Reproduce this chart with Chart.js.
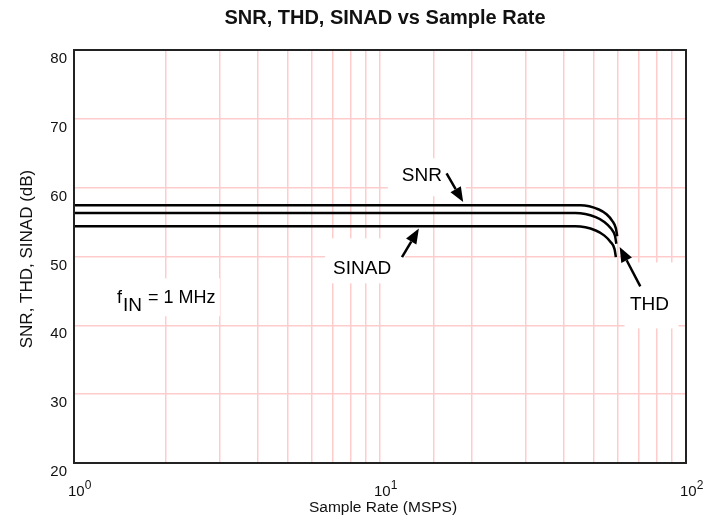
<!DOCTYPE html>
<html>
<head>
<meta charset="utf-8">
<script src="https://cdn.jsdelivr.net/npm/chart.js@4.4.1/dist/chart.umd.min.js"></script>
<style>
  html, body { margin: 0; padding: 0; background: #fff; }
  #wrap { width: 724px; height: 523px; position: relative; }
</style>
</head>
<body>
<div id="wrap"><canvas id="snrChart"></canvas></div>
<script>
// values (x in MSPS, y in dB)
const rateSNR = [1, 10, 45.1, 51.9, 55.0, 57.4, 59.0, 59.6];
const snrDb   = [57.44, 57.44, 57.44, 56.83, 56.13, 55.18, 54.09, 52.93];
const rateTHD = [1, 10, 43.5, 50.7, 54.1, 56.8, 58.6, 59.2];
const thdDb   = [56.32, 56.32, 56.32, 55.72, 55.01, 54.09, 53.01, 51.86];
const rateSINAD = [1, 10, 43.5, 50.7, 54.0, 56.6, 58.4, 59.0];
const sinadDb   = [54.38, 54.38, 54.38, 53.78, 53.07, 52.15, 51.08, 49.91];

const yTicks = [20, 30, 40, 50, 60, 70, 80];
const xDecades = [1, 10, 100];

const FONT = "'Liberation Sans', Arial, sans-serif";
const GRID = 'rgb(255, 204, 204)';

// curve labels: text centre, arrow tail/tip (data units), white box round the text (px)
const notes = [
  { text: 'SNR',   x: 13.7, y: 61.8,  tail: [16.5, 62.06], tip: [18.7, 57.9],  box: [-34, -17, 44, 21] },
  { text: 'SINAD', x: 8.74, y: 48.28, tail: [11.8, 49.92], tip: [13.4, 54.05], box: [-37, -30, 43, 15] },
  { text: 'THD',   x: 76.0, y: 43.04, tail: [70.9, 45.66], tip: [60.7, 51.38], box: [-25, -42, 29, 24] }
];

const toPoints = (xs, ys) => xs.map((v, i) => ({ x: v, y: ys[i] }));

const arrow = (ctx, x0, y0, x1, y1) => {
  const ang = Math.atan2(y1 - y0, x1 - x0);
  const len = 15, half = 6;
  const bx = x1 - len * Math.cos(ang), by = y1 - len * Math.sin(ang);
  ctx.beginPath();
  ctx.moveTo(x0, y0);
  ctx.lineTo(bx, by);
  ctx.stroke();
  ctx.beginPath();
  ctx.moveTo(x1, y1);
  ctx.lineTo(bx + half * Math.sin(ang), by - half * Math.cos(ang));
  ctx.lineTo(bx - half * Math.sin(ang), by + half * Math.cos(ang));
  ctx.closePath();
  ctx.fill();
};

const extras = {
  id: 'extras',
  beforeDatasetsDraw(chart) {
    const { ctx, scales: { x, y } } = chart;
    ctx.save();
    ctx.fillStyle = '#fff';
    notes.forEach(n => {
      const cx = x.getPixelForValue(n.x), cy = y.getPixelForValue(n.y);
      ctx.fillRect(cx + n.box[0], cy + n.box[1], n.box[2] - n.box[0], n.box[3] - n.box[1]);
    });
    // f_IN box
    const fx = x.getPixelForValue(1.35), fy = y.getPixelForValue(43.2);
    ctx.fillRect(fx - 6, fy - 25, 112, 38);
    ctx.restore();
  },
  afterDatasetsDraw(chart) {
    const { ctx, chartArea: a, scales: { x, y } } = chart;
    ctx.save();
    ctx.strokeStyle = '#222';
    ctx.lineWidth = 2;
    ctx.strokeRect(a.left, a.top, a.right - a.left, a.bottom - a.top);

    ctx.fillStyle = '#000';
    ctx.strokeStyle = '#000';
    ctx.lineWidth = 2.5;
    notes.forEach(n => {
      arrow(ctx, x.getPixelForValue(n.tail[0]), y.getPixelForValue(n.tail[1]),
                 x.getPixelForValue(n.tip[0]), y.getPixelForValue(n.tip[1]));
    });
    ctx.font = '19px ' + FONT;
    ctx.textAlign = 'center';
    ctx.textBaseline = 'middle';
    notes.forEach(n => ctx.fillText(n.text, x.getPixelForValue(n.x), y.getPixelForValue(n.y)));

    // f_IN = 1 MHz
    let fx = x.getPixelForValue(1.35) + 3;
    const fy = y.getPixelForValue(43.2);
    ctx.textAlign = 'left';
    ctx.textBaseline = 'alphabetic';
    ctx.font = '18px ' + FONT;
    ctx.fillText('f', fx, fy);
    fx += ctx.measureText('f').width + 1;
    ctx.font = '19px ' + FONT;
    ctx.fillText('IN', fx, fy + 8);
    fx += ctx.measureText('IN').width + 6;
    ctx.font = '18px ' + FONT;
    ctx.fillText('= 1 MHz', fx, fy);
    ctx.restore();
  },
  afterDraw(chart) {
    const { ctx, scales: { x } } = chart;
    ctx.save();
    ctx.fillStyle = '#111';
    ctx.textAlign = 'center';
    ctx.textBaseline = 'middle';
    ctx.font = 'bold 20px ' + FONT;
    ctx.fillText('SNR, THD, SINAD vs Sample Rate', 385, 18);
    ctx.font = '15.5px ' + FONT;
    ctx.fillText('Sample Rate (MSPS)', 383, 508);

    ctx.save();
    ctx.translate(27, 259);
    ctx.rotate(-Math.PI / 2);
    ctx.font = '17px ' + FONT;
    ctx.fillText('SNR, THD, SINAD (dB)', 0, 0);
    ctx.restore();

    // decade labels 10^n
    ctx.textAlign = 'left';
    ctx.textBaseline = 'alphabetic';
    xDecades.forEach((v, i) => {
      const px = x.getPixelForValue(v) - 6;
      ctx.font = '15px ' + FONT;
      ctx.fillText('10', px, 496);
      const w = ctx.measureText('10').width;
      ctx.font = '12px ' + FONT;
      ctx.fillText(String(i), px + w, 489);
    });
    ctx.restore();
  }
};

const lineSet = (label, xs, ys) => ({
  label,
  data: toPoints(xs, ys),
  borderColor: '#000',
  borderWidth: 2.5,
  pointRadius: 0,
  fill: false,
  cubicInterpolationMode: 'monotone'
});

new Chart(document.getElementById('snrChart'), {
  type: 'line',
  data: {
    datasets: [
      lineSet('SNR', rateSNR, snrDb),
      lineSet('THD', rateTHD, thdDb),
      lineSet('SINAD', rateSINAD, sinadDb)
    ]
  },
  options: {
    responsive: true,
    maintainAspectRatio: false,
    animation: false,
    layout: { padding: { left: 0, top: 50, right: 38, bottom: 0 } },
    plugins: { legend: { display: false }, tooltip: { enabled: false } },
    scales: {
      x: {
        type: 'logarithmic',
        min: 1,
        max: 100,
        afterFit: s => { s.height = 60; },
        border: { display: false },
        grid: { color: GRID, lineWidth: 1.5, drawTicks: false },
        ticks: { display: false }
      },
      y: {
        min: 20,
        max: 80,
        afterBuildTicks: s => { s.ticks = yTicks.map(v => ({ value: v })); },
        afterFit: s => { s.width = 74; },
        border: { display: false },
        grid: { color: GRID, lineWidth: 1.5, drawTicks: false },
        ticks: { color: '#111', padding: 7, labelOffset: 9, font: { family: FONT, size: 15 } }
      }
    }
  },
  plugins: [extras]
});
</script>
</body>
</html>
